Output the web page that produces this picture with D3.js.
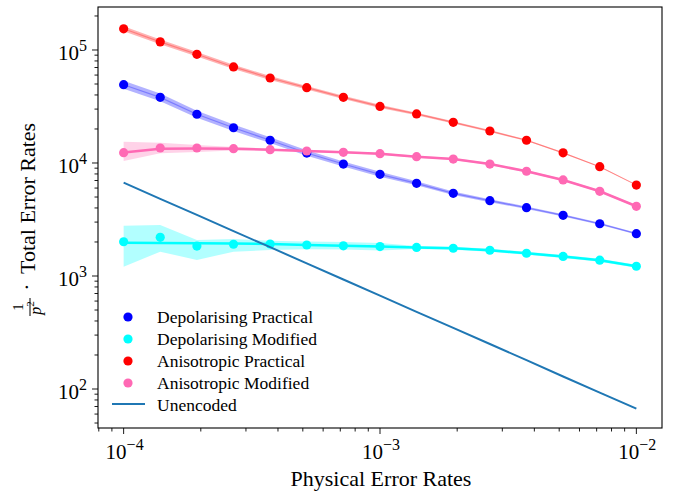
<!DOCTYPE html>
<html><head><meta charset="utf-8">
<script src="https://cdn.jsdelivr.net/npm/d3@7"></script>
<style>html,body{margin:0;padding:0;background:#fff;} svg{display:block;}</style>
</head><body>
<svg id="chart" width="678" height="494"></svg>
<script>
// ---- data ----
const pValues = [1.0e-4,1.389e-4,1.931e-4,2.683e-4,3.728e-4,5.179e-4,7.197e-4,1.0e-3,1.389e-3,1.931e-3,2.683e-3,3.728e-3,5.179e-3,7.197e-3,1.0e-2];

const depPracPts = [49300,38100,27000,20500,15900,12250,9790,7940,6610,5390,4640,4020,3440,2900,2370];
const depPracLo  = [45400,35200,25100,19200,15000,11570,9310,7550,6340,5200,4500,3910,3360,2840,2330];
const depPracHi  = [53500,41200,29000,21900,16900,12970,10300,8350,6890,5590,4780,4130,3520,2960,2410];

const depModPts = [2010,2200,1840,1910,1920,1880,1850,1820,1790,1760,1690,1590,1490,1380,1220];
const depModFit = [1970,1960,1950,1935,1920,1885,1850,1820,1790,1760,1690,1590,1490,1380,1220];
const depModLo  = [1209,1641,1386,1641,1699,1723,1720,1681,1736,1707,1640,1542,1445,1340,1185];
const depModHi  = [2787,2827,2083,2125,2053,2020,2000,1960,1845,1815,1740,1640,1535,1420,1255];

const aniPracPts = [154000,118000,91600,70800,56500,46400,38100,31700,27200,22900,19200,15900,12300,9270,6380];
const aniPracLo  = [146400,112200,87400,67800,54200,44700,36900,30700,26500,22400,18800,15650,12130,9180,6340];
const aniPracHi  = [162000,124100,96000,73900,58900,48100,39400,32700,27900,23400,19600,16150,12470,9360,6420];

const aniModPts = [12330,13580,13580,13400,13130,12770,12440,12090,11370,10840,9790,8450,7080,5620,4140];
const aniModFit = [12400,13400,13450,13350,13130,12770,12440,12090,11370,10840,9790,8450,7080,5620,4140];
const aniModLo  = [10420,12180,12510,12900,12870,12520,12200,11850,11150,10630,9600,8280,6940,5510,4060];
const aniModHi  = [15430,15120,14430,13850,13390,13030,12690,12330,11600,11060,9990,8620,7220,5730,4220];

const unencoded = [6700,4822,3471,2498,1798,1294,931,670,482,347,250,180,129,93,67];

const xTickLabels = ["\u22124","\u22123","\u22122"];
const yTickLabels = ["2","3","4","5"];
const legendLabels = ["Depolarising Practical","Depolarising Modified","Anisotropic Practical","Anisotropic Modified","Unencoded"];

// ---- layout ----
const svg = d3.select("#chart");
const L = 98, R = 662, T = 7, B = 428;
const x = d3.scaleLog().domain([1e-4/Math.pow(10,0.1), 1e-2*Math.pow(10,0.1)]).range([L, R]);
const y = d3.scaleLog().domain([Math.pow(10,1.6549), Math.pow(10,5.3805)]).range([B, T]);
const serif = "'Liberation Serif','Times New Roman',serif";

const series = [
  {pts: depPracPts, fit: depPracPts, lo: depPracLo, hi: depPracHi, color: "#0000ff", band: "#0000ff", bandOp: 0.3, lineColor: "#0000ff", lineOp: 0.3, lw: 1.2},
  {pts: depModPts, fit: depModFit, lo: depModLo, hi: depModHi, color: "#00ffff", band: "#00ffff", bandOp: 0.3, lineColor: "#00ffff", lineOp: 1, lw: 2.5},
  {pts: aniPracPts, fit: aniPracPts, lo: aniPracLo, hi: aniPracHi, color: "#ff0000", band: "#ff0000", bandOp: 0.3, lineColor: "#ff0000", lineOp: 0.3, lw: 1.2},
  {pts: aniModPts, fit: aniModFit, lo: aniModLo, hi: aniModHi, color: "#ff69b4", band: "#ff69b4", bandOp: 0.3, lineColor: "#ff69b4", lineOp: 1, lw: 2.5}
];

const plot = svg.append("g");
const area = d3.area().x((d,i)=>x(pValues[i])).y0(d=>y(d[0])).y1(d=>y(d[1])).curve(d3.curveLinear);
const line = d3.line().x((d,i)=>x(pValues[i])).y(d=>y(d));

series.forEach(s=>{
  plot.append("path").datum(s.lo.map((v,i)=>[v, s.hi[i]])).attr("d", area)
    .attr("fill", s.band).attr("fill-opacity", s.bandOp).attr("stroke","none");
  plot.append("path").datum(s.fit).attr("d", line)
    .attr("fill","none").attr("stroke", s.lineColor).attr("stroke-opacity", s.lineOp).attr("stroke-width", s.lw);
});
series.forEach(s=>{
  plot.selectAll(null).data(s.pts).enter().append("circle")
    .attr("cx",(d,i)=>x(pValues[i])).attr("cy",d=>y(d)).attr("r",4.6).attr("fill", s.color);
});
plot.append("path").datum(unencoded).attr("d", line)
  .attr("fill","none").attr("stroke","#1f77b4").attr("stroke-width",2);

// ---- frame ----
svg.append("rect").attr("x",L).attr("y",T).attr("width",R-L).attr("height",B-T)
  .attr("fill","none").attr("stroke","#000").attr("stroke-width",1.1);

// ---- ticks ----
const axes = svg.append("g").attr("stroke","#000").attr("stroke-width",0.9);
const xMajor = [1e-4,1e-3,1e-2];
const xMinor = [];
[1e-5,1e-4,1e-3,1e-2].forEach(b=>{for(let k=2;k<=9;k++){const v=b*k; if(x(v)>=L && x(v)<=R) xMinor.push(v);}});
xMajor.forEach(v=>axes.append("line").attr("x1",x(v)).attr("x2",x(v)).attr("y1",B).attr("y2",B+6));
xMinor.forEach(v=>axes.append("line").attr("x1",x(v)).attr("x2",x(v)).attr("y1",B).attr("y2",B+3.5));
const yMajor = [1e2,1e3,1e4,1e5];
const yMinor = [];
[10,100,1000,1e4,1e5].forEach(b=>{for(let k=2;k<=9;k++){const v=b*k; if(y(v)>=T && y(v)<=B) yMinor.push(v);}});
yMajor.forEach(v=>axes.append("line").attr("y1",y(v)).attr("y2",y(v)).attr("x1",L).attr("x2",L-6));
yMinor.forEach(v=>axes.append("line").attr("y1",y(v)).attr("y2",y(v)).attr("x1",L).attr("x2",L-3.5));

// tick labels
xMajor.forEach((v,i)=>{
  const t = svg.append("text").attr("x", x(v)+1).attr("y", B+31).attr("text-anchor","middle")
    .attr("font-family", serif).attr("font-size", 21).attr("fill","#000");
  t.append("tspan").text("10");
  t.append("tspan").attr("dy",-9).attr("font-size",16).text(xTickLabels[i]);
});
yMajor.forEach((v,i)=>{
  const t = svg.append("text").attr("x", L-11).attr("y", y(v)+10).attr("text-anchor","end")
    .attr("font-family", serif).attr("font-size", 21).attr("fill","#000");
  t.append("tspan").text("10");
  t.append("tspan").attr("dy",-9).attr("font-size",16).text(yTickLabels[i]);
});

// axis labels
svg.append("text").attr("x", (L+R)/2 + 1).attr("y", 486).attr("text-anchor","middle")
  .attr("font-family", serif).attr("font-size", 22).attr("fill","#000").text("Physical Error Rates");

const yl = svg.append("g").attr("transform","translate(35,217) rotate(-90)").attr("font-family", serif).attr("fill","#000");
yl.append("text").attr("x",-90).attr("y",-12).attr("text-anchor","middle").attr("font-size",15).text("1");
yl.append("line").attr("x1",-99).attr("x2",-81).attr("y1",-5).attr("y2",-5).attr("stroke","#000").attr("stroke-width",1);
const pt = yl.append("text").attr("x",-91).attr("y",6).attr("text-anchor","middle").attr("font-size",16);
pt.append("tspan").attr("font-style","italic").text("p");
pt.append("tspan").attr("dy",-7).attr("font-size",11).text("2");
yl.append("text").attr("x",-70).attr("y",-1).attr("text-anchor","middle").attr("font-size",22).text("\u00b7");
yl.append("text").attr("x",-57).attr("y",0).attr("text-anchor","start").attr("font-size",22).text("Total Error Rates");

// legend
const lg = svg.append("g");
const legColors = ["#0000ff","#00ffff","#ff0000","#ff69b4"];
legendLabels.forEach((lab,i)=>{
  const yy = 317 + i*22;
  if (i<4) lg.append("circle").attr("cx",128).attr("cy",yy).attr("r",4.6).attr("fill",legColors[i]);
  else lg.append("line").attr("x1",112).attr("x2",145).attr("y1",yy-1).attr("y2",yy-1).attr("stroke","#1f77b4").attr("stroke-width",2);
  lg.append("text").attr("x",157).attr("y",yy+6).attr("font-family",serif).attr("font-size",17.5).attr("fill","#000").text(lab);
});
</script>
</body></html>
